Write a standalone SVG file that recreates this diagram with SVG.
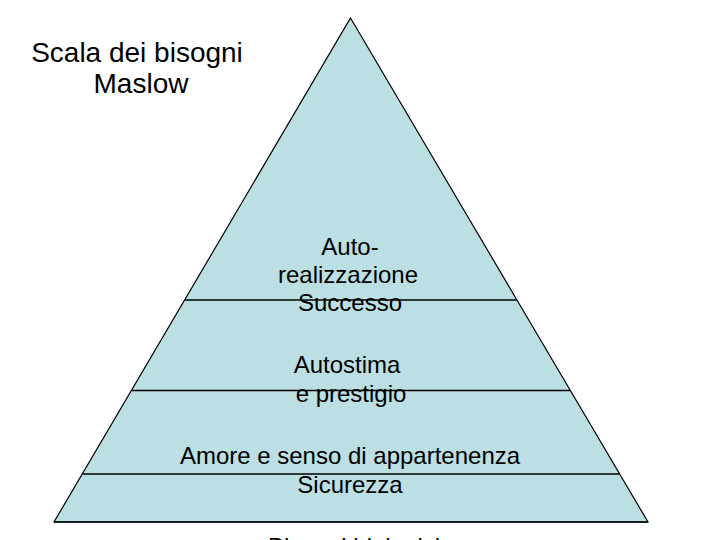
<svg xmlns="http://www.w3.org/2000/svg" width="720" height="540" viewBox="0 0 720 540">
<style>
.t{font-family:"Liberation Sans",Arial,sans-serif;fill:#000;text-anchor:middle}
.s{font-size:24px}
.h{font-size:28px}
.ln{stroke:#000;stroke-width:1.3;fill:none}
</style>
<rect width="720" height="540" fill="#fff"/>
<g id="title">
<text class="t h" x="137" y="62">Scala dei bisogni</text>
<text class="t h" x="141" y="93">Maslow</text>
</g>
<g id="pyramid">
<polygon points="350.5,18 648,522 54,522" fill="#BBDFE3" stroke="#000" stroke-width="1.2"/>
</g>
<g id="dividers">
<line class="ln" x1="185" y1="300" x2="517" y2="300"/>
<line class="ln" x1="132" y1="390.5" x2="570" y2="390.5"/>
<line class="ln" x1="83" y1="474" x2="619" y2="474"/>
<line class="ln" x1="54" y1="522" x2="648" y2="522"/>
</g>
<g id="level-autorealizzazione">
<text class="t s" x="350" y="255">Auto-</text>
<text class="t s" x="348" y="283">realizzazione</text>
<text class="t s" x="350" y="311">Successo</text>
</g>
<g id="level-autostima">
<text class="t s" x="347" y="373">Autostima</text>
<text class="t s" x="351" y="402">e prestigio</text>
</g>
<g id="level-amore">
<text class="t s" x="350" y="464">Amore e senso di appartenenza</text>
</g>
<g id="level-sicurezza">
<text class="t s" x="350" y="493">Sicurezza</text>
</g>
<g id="level-biologici">
<text class="t s" x="354" y="555">Bisogni biologici</text>
</g>
</svg>
